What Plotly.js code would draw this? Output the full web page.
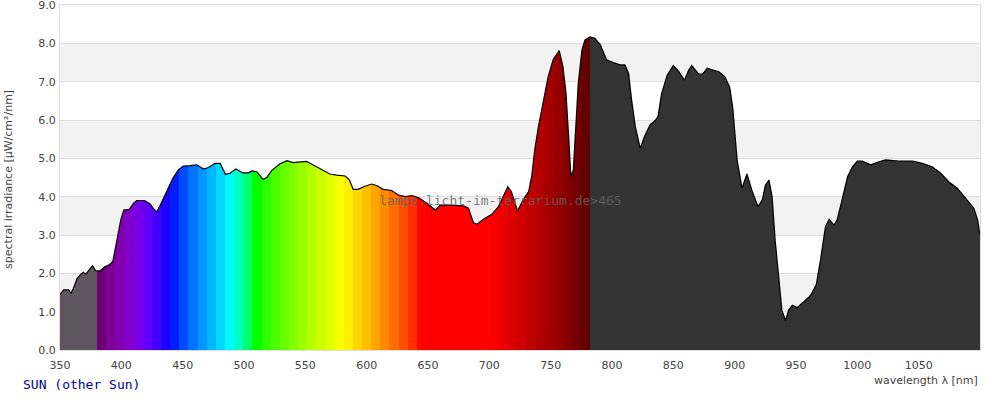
<!DOCTYPE html>
<html>
<head>
<meta charset="utf-8">
<script src="https://cdn.plot.ly/plotly-3.0.1.min.js"></script>
<style>html,body{margin:0;padding:0;background:#fff;}#chart{width:1000px;height:400px;}
#chart path.js-fill{shape-rendering:crispEdges;}</style>
</head>
<body>
<div id="chart"></div>
<script>
// ---- data ----
const wavelength = [350,353,357,359,361,364,367,369,371,374.5,376.5,379,382.5,386.5,390,393,395,397.5,399.5,402,406.5,410,412.5,419,423.5,426.5,429,431.5,434,437,442,446.5,450.5,456,461.5,467,471,476.5,480.5,485,488.5,493.5,499,503.5,506.5,510.5,515.5,518.5,522.5,529,535,540,545.5,551,555,560.5,566,570,575.5,582.5,586,589,593,597.5,604,608,613.5,620.5,626,631.5,637,642.5,649,656,660,668,679,683,687,690,695.5,702,707.5,711.5,715,718,723,727.5,732,734.5,737,740,744,748,752,757,760,762.5,764.5,766.5,768.5,770.5,772.5,775.5,778,782,786,790.5,795.5,801,806.5,810.5,813.5,816,819,823,826.5,831,835,837.5,840.5,845,850,854.5,859,862.5,865,870.5,874,877.5,883,887,892,896,898.5,900,902,906,910,914,919,922.5,925,928,930.5,933,936,938.5,941.5,944,947,951,956.5,962,966.5,970,974,977,981,983.5,987.5,992,996,1000,1004,1011,1017.5,1023,1034,1045,1053,1061,1068,1074.5,1081.5,1088,1095,1098,1100];
const irradiance = [1.45,1.57,1.57,1.48,1.62,1.87,1.98,2.03,1.98,2.13,2.20,2.07,2.06,2.17,2.22,2.30,2.61,3.04,3.39,3.65,3.67,3.83,3.90,3.90,3.81,3.67,3.61,3.76,3.93,4.17,4.48,4.70,4.80,4.81,4.83,4.72,4.76,4.87,4.87,4.58,4.61,4.72,4.62,4.62,4.67,4.65,4.45,4.50,4.68,4.85,4.94,4.89,4.90,4.92,4.85,4.76,4.65,4.59,4.56,4.54,4.43,4.19,4.19,4.26,4.33,4.29,4.19,4.16,4.04,4.00,4.03,3.97,3.83,3.65,3.78,3.78,3.76,3.70,3.32,3.28,3.42,3.54,3.74,4.00,4.26,4.13,3.63,3.91,4.13,4.52,5.22,5.83,6.52,7.13,7.57,7.81,7.39,6.70,5.65,4.52,4.70,5.83,6.96,7.83,8.09,8.17,8.13,7.96,7.57,7.50,7.44,7.44,7.22,6.52,5.83,5.26,5.57,5.87,5.98,6.09,6.70,7.17,7.42,7.26,7.04,7.30,7.42,7.20,7.20,7.35,7.29,7.26,7.13,6.85,6.30,5.70,4.96,4.22,4.59,4.17,3.74,3.91,4.30,4.43,4.00,2.87,1.91,1.04,0.77,1.04,1.17,1.11,1.26,1.43,1.70,2.35,3.22,3.41,3.26,3.39,3.91,4.52,4.78,4.93,4.93,4.83,4.91,4.96,4.93,4.93,4.87,4.78,4.61,4.39,4.22,3.96,3.70,3.40,3.00];
const xTickValues = [350,400,450,500,550,600,650,700,750,800,850,900,950,1000,1050];
const xTickLabels = ["350","400","450","500","550","600","650","700","750","800","850","900","950","1000","1050"];
const yTickValues = [0,1,2,3,4,5,6,7,8,9];
const yTickLabels = ["0.0","1.0","2.0","3.0","4.0","5.0","6.0","7.0","8.0","9.0"];
const lampName = "SUN (other Sun)";
const watermark = "lamps.licht-im-terrarium.de>465";

// ---- styling helpers ----
const VIS_START = 380.3, VIS_END = 782.3, N_STRIPS = 54;
function spectrumColor(w) {
  let r=0,g=0,b=0;
  if (w<440){ r=-(w-440)/60; b=1; }
  else if (w<490){ g=(w-440)/50; b=1; }
  else if (w<510){ g=1; b=-(w-510)/20; }
  else if (w<580){ r=(w-510)/70; g=1; }
  else if (w<645){ r=1; g=-(w-645)/65; }
  else { r=1; }
  let f=1;
  if (w<420) f=0.3+0.7*(w-380)/40;
  else if (w>700) f=0.3+0.7*(780-Math.min(w,780))/80;
  const c=v=>v<=0?0:Math.round(255*Math.pow(v*f,0.8));
  return `rgb(${c(r)},${c(g)},${c(b)})`;
}
function valAt(x){
  for (let i=0;i<wavelength.length-1;i++){
    if (x>=wavelength[i] && x<=wavelength[i+1]){
      const t=(x-wavelength[i])/(wavelength[i+1]-wavelength[i]);
      return irradiance[i]+t*(irradiance[i+1]-irradiance[i]);
    }
  }
  return irradiance[irradiance.length-1];
}
function segment(a,b,color){
  const xs=[a], ys=[valAt(a)];
  for (let i=0;i<wavelength.length;i++){
    if (wavelength[i]>a && wavelength[i]<b){ xs.push(wavelength[i]); ys.push(irradiance[i]); }
  }
  xs.push(b); ys.push(valAt(b));
  return {x:xs,y:ys,type:'scatter',mode:'lines',fill:'tozeroy',fillcolor:color,
          line:{width:0,color:color},hoverinfo:'skip',showlegend:false};
}

const traces=[];
traces.push(segment(350, VIS_START+0.8, '#5f5560'));
const step=(VIS_END-VIS_START)/N_STRIPS;
for (let k=0;k<N_STRIPS;k++){
  const a=VIS_START+k*step, b=a+step;
  traces.push(segment(a, Math.min(b+0.8, VIS_END+0.8), spectrumColor(a+step/2)));
}
traces.push(segment(VIS_END, 1100, '#333333'));
traces.push({x:wavelength,y:irradiance,type:'scatter',mode:'lines',
  line:{color:'#000',width:1.2,shape:'linear'},hoverinfo:'skip',showlegend:false});

const shapes=[];
[1,3,5,7].forEach(v=>shapes.push({type:'rect',xref:'paper',yref:'y',x0:0,x1:1,y0:v,y1:v+1,
  fillcolor:'#f2f2f2',line:{width:0},layer:'below'}));

const tickFont={family:'DejaVu Sans, sans-serif',size:11,color:'#444'};
const layout={
  width:1000,height:400,
  margin:{l:60,r:20,t:5,b:50},
  paper_bgcolor:'#fff',plot_bgcolor:'#fff',
  showlegend:false,
  xaxis:{range:[350,1100],tickvals:xTickValues,ticktext:xTickLabels,showgrid:false,zeroline:false,
    showline:true,linecolor:'#dddddd',linewidth:1,mirror:true,ticks:'',tickfont:tickFont,fixedrange:true,
    ticklabelstandoff:5,ticklabeloverflow:'allow'},
  yaxis:{range:[0,9],tickvals:yTickValues,ticktext:yTickLabels,showgrid:true,gridcolor:'#dddddd',gridwidth:1,
    zeroline:false,showline:true,linecolor:'#dddddd',linewidth:1,mirror:true,ticks:'',tickfont:tickFont,fixedrange:true,
    ticklabelstandoff:1,ticklabeloverflow:'allow'},
  shapes:shapes,
  annotations:[
    {text:'spectral irradiance [µW/cm²/nm]',xref:'paper',yref:'paper',x:-0.0554,y:0.493,
     textangle:-90,showarrow:false,xanchor:'center',yanchor:'middle',font:{family:'DejaVu Sans, sans-serif',size:11,color:'#444'}},
    {text:'wavelength λ [nm]',xref:'paper',yref:'paper',x:1,y:-0.089,xanchor:'right',yanchor:'middle',
     showarrow:false,font:{family:'DejaVu Sans, sans-serif',size:11,color:'#444'}},
    {text:lampName,xref:'paper',yref:'paper',x:-0.0424,y:-0.101,xanchor:'left',yanchor:'middle',
     showarrow:false,font:{family:'DejaVu Sans Mono, monospace',size:13,color:'#000099'}},
    {text:watermark,xref:'paper',yref:'paper',x:0.4793,y:0.432,xanchor:'center',yanchor:'middle',
     showarrow:false,font:{family:'DejaVu Sans Mono, monospace',size:13,color:'rgba(100,100,100,0.85)'}}
  ]
};
Plotly.newPlot('chart',traces,layout,{staticPlot:true,displayModeBar:false});
</script>
</body>
</html>
